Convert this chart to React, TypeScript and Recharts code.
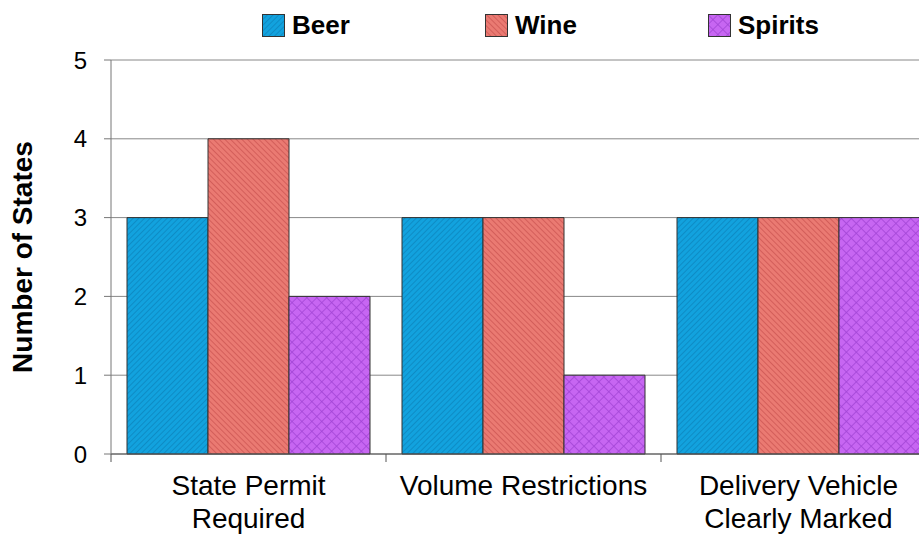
import {
  BarChart,
  Bar,
  XAxis,
  YAxis,
  CartesianGrid,
  Legend,
  Label,
} from 'recharts';

const categories = ['State Permit Required', 'Volume Restrictions', 'Delivery Vehicle Clearly Marked'];
const tickLines = [['State Permit', 'Required'], ['Volume Restrictions'], ['Delivery Vehicle', 'Clearly Marked']];
const seriesNames = ['Beer', 'Wine', 'Spirits'];
const beer = [3, 3, 3];
const wine = [4, 3, 3];
const spirits = [2, 1, 3];
const yTicks = [0, 1, 2, 3, 4, 5];

const data = categories.map((name, i) => ({
  name,
  Beer: beer[i],
  Wine: wine[i],
  Spirits: spirits[i],
}));

const font = '"Liberation Sans", Arial, sans-serif';

function Patterns({ prefix }: { prefix: string }) {
  return (
    <defs>
      <pattern id={prefix + 'beer'} width="4" height="4" patternUnits="userSpaceOnUse" patternTransform="rotate(45)">
        <rect width="4" height="4" fill="#12a2de" />
        <line x1="0" y1="0" x2="0" y2="4" stroke="#0b82ba" strokeWidth="1.4" />
      </pattern>
      <pattern id={prefix + 'wine'} width="4" height="4" patternUnits="userSpaceOnUse" patternTransform="rotate(-45)">
        <rect width="4" height="4" fill="#ea7a72" />
        <line x1="0" y1="0" x2="0" y2="4" stroke="#c9524f" strokeWidth="1.4" />
      </pattern>
      <pattern id={prefix + 'spirits'} width="7" height="7" patternUnits="userSpaceOnUse" patternTransform="rotate(45)">
        <rect width="7" height="7" fill="#c766f2" />
        <line x1="0" y1="0" x2="0" y2="7" stroke="#a345d6" strokeWidth="1.6" />
        <line x1="0" y1="0" x2="7" y2="0" stroke="#a345d6" strokeWidth="1.6" />
      </pattern>
    </defs>
  );
}

function XTick(props: any) {
  const { x, y, payload, index } = props;
  const half = payload.offset ?? 0;
  const lines = tickLines[index] || [payload.value];
  return (
    <g>
      <line x1={x - half} x2={x - half} y1={y - 8} y2={y} stroke="#555" />
      <text x={x} y={y} textAnchor="middle" fontFamily={font} fontSize={28} fill="#000">
        {lines.map((l: string, i: number) => (
          <tspan key={i} x={x} dy={33}>
            {l}
          </tspan>
        ))}
      </text>
    </g>
  );
}

function LegendContent() {
  return (
    <div style={{ display: 'flex', fontFamily: font }}>
      {seriesNames.map((name) => {
        const key = name.toLowerCase();
        return (
          <div key={name} style={{ display: 'flex', alignItems: 'center', width: 223 }}>
            <svg width={23} height={23} style={{ marginRight: 7 }}>
              <Patterns prefix={'lg' + key} />
              <rect x={0.5} y={0.5} width={22} height={22} fill={`url(#lg${key}${key})`} stroke="#333" />
            </svg>
            <span style={{ fontSize: 26, fontWeight: 'bold', color: '#000' }}>{name}</span>
          </div>
        );
      })}
    </div>
  );
}

function YTitle(props: any) {
  const vb = props.viewBox;
  const cx = 22;
  const cy = vb.y + vb.height / 2;
  return (
    <text
      x={cx}
      y={cy}
      transform={`rotate(-90, ${cx}, ${cy})`}
      textAnchor="middle"
      dominantBaseline="central"
      fontFamily={font}
      fontSize={28}
      fontWeight="bold"
      fill="#000"
    >
      Number of States
    </text>
  );
}

export default function App() {
  return (
    <div style={{ position: 'absolute', left: 0, top: 0, width: 919, height: 534, overflow: 'hidden', background: '#fff' }}>
      <BarChart
        width={960}
        height={534}
        data={data}
        margin={{ top: 60, right: 24, left: 0, bottom: 0 }}
        barCategoryGap={16}
        barGap={0}
      >
        <Patterns prefix="" />
        <CartesianGrid vertical={false} stroke="#888" />
        <XAxis
          dataKey="name"
          height={80}
          tick={<XTick />}
          tickLine={false}
          tickSize={8}
          tickMargin={0}
          interval={0}
          stroke="#555"
        />
        <YAxis
          width={111}
          domain={[0, 5]}
          ticks={yTicks}
          tickSize={7}
          tickMargin={17}
          stroke="#777"
          tick={{ fill: '#000', fontSize: 24, fontFamily: font }}
        >
          <Label content={<YTitle />} />
        </YAxis>
        <Legend
          verticalAlign="middle"
          layout="horizontal"
          content={<LegendContent />}
          wrapperStyle={{ left: 262, top: 10, width: 700 }}
        />
        <Bar dataKey="Beer" fill="url(#beer)" stroke="#333" strokeWidth={1} isAnimationActive={false} />
        <Bar dataKey="Wine" fill="url(#wine)" stroke="#333" strokeWidth={1} isAnimationActive={false} />
        <Bar dataKey="Spirits" fill="url(#spirits)" stroke="#333" strokeWidth={1} isAnimationActive={false} />
      </BarChart>
    </div>
  );
}
